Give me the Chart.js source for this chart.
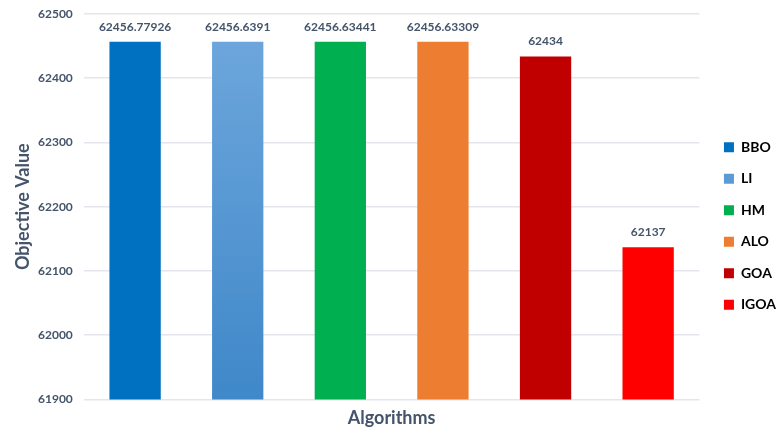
<!DOCTYPE html>
<html>
<head>
<meta charset="utf-8">
<script src="https://cdn.jsdelivr.net/npm/chart.js@4"></script>
<style>
  body { margin: 0; background: #fff; }
  #wrap { width: 778px; height: 430px; }
</style>
</head>
<body>
<div id="wrap"><canvas id="myChart"></canvas></div>
<script>
const algorithms = ['BBO', 'LI', 'HM', 'ALO', 'GOA', 'IGOA'];
const objectiveValues = [62456.77926, 62456.6391, 62456.63441, 62456.63309, 62434, 62137];
const valueLabels = ['62456.77926', '62456.6391', '62456.63441', '62456.63309', '62434', '62137'];
const barColors = ['#0070c0', '#5b9bd5', '#00b050', '#ed7d31', '#c00000', '#ff0000'];
const yTicks = [61900, 62000, 62100, 62200, 62300, 62400, 62500];

const textColor = '#44546a';
const fontFamily = 'Lato, "Open Sans", sans-serif';

// LI bar is drawn with a light-to-dark vertical gradient
function barFill(context) {
  const i = context.dataIndex;
  if (i !== 1) return barColors[i];
  const area = context.chart.chartArea;
  if (!area) return barColors[i];
  const g = context.chart.ctx.createLinearGradient(0, area.top, 0, area.bottom);
  g.addColorStop(0, '#70a8dd');
  g.addColorStop(1, '#3f88c9');
  return g;
}

// value labels above each bar
const barLabels = {
  id: 'barLabels',
  afterDatasetsDraw(chart) {
    const { ctx } = chart;
    ctx.save();
    ctx.font = 'bold 12px ' + fontFamily;
    ctx.fillStyle = textColor;
    ctx.textAlign = 'center';
    ctx.textBaseline = 'bottom';
    chart.getDatasetMeta(0).data.forEach((bar, index) => {
      ctx.fillText(valueLabels[index], bar.x, bar.y - 9);
    });
    ctx.restore();
  }
};

// nudge the legend a bit right and down
const legendNudge = {
  id: 'legendNudge',
  afterLayout(chart) {
    const lg = chart.legend;
    if (!lg) return;
    lg.left += 7; lg.right += 7;
    lg.top += 3; lg.bottom += 3;
  }
};

const data = {
  labels: algorithms,
  datasets: [{
    label: 'Objective Value',
    data: objectiveValues,
    backgroundColor: barFill,
    borderWidth: 0,
    barPercentage: 0.5,
    categoryPercentage: 1
  }]
};

const config = {
  type: 'bar',
  data,
  options: {
    responsive: true,
    maintainAspectRatio: false,
    animation: false,
    layout: { padding: { top: 14, left: 14, right: -1, bottom: -2 } },
    plugins: {
      legend: {
        position: 'right',
        labels: {
          boxWidth: 10,
          boxHeight: 10,
          padding: 17.5,
          color: textColor,
          font: { family: fontFamily, size: 14, weight: 'bold' },
          generateLabels(chart) {
            return algorithms.map((name, i) => ({
              text: name,
              fillStyle: barColors[i],
              strokeStyle: barColors[i],
              lineWidth: 0,
              hidden: false,
              index: i
            }));
          }
        }
      },
      tooltip: { enabled: false }
    },
    scales: {
      x: {
        ticks: { display: false },
        grid: { display: false },
        border: { display: false },
        title: {
          display: true,
          text: 'Algorithms',
          color: textColor,
          font: { family: fontFamily, size: 18, weight: 'bold' },
          padding: { top: 0, bottom: 3 }
        }
      },
      y: {
        min: 61900,
        max: 62500,
        afterBuildTicks(axis) {
          axis.ticks = yTicks.map(v => ({ value: v }));
        },
        afterFit(axis) {
          axis.width -= 5;
          axis.paddingTop = 0;
        },
        ticks: {
          color: textColor,
          padding: 11,
          font: { family: fontFamily, size: 12, weight: 'bold' },
          callback: v => String(v)
        },
        grid: { color: '#e3e6ec', lineWidth: 1.5, drawTicks: false },
        border: { display: false },
        title: {
          display: true,
          text: 'Objective Value',
          color: textColor,
          font: { family: fontFamily, size: 18, weight: 'bold', lineHeight: 1 },
          padding: { top: 0, bottom: 0 }
        }
      }
    }
  },
  plugins: [barLabels, legendNudge]
};

const myChart = new Chart(document.getElementById('myChart'), config);
</script>
</body>
</html>
